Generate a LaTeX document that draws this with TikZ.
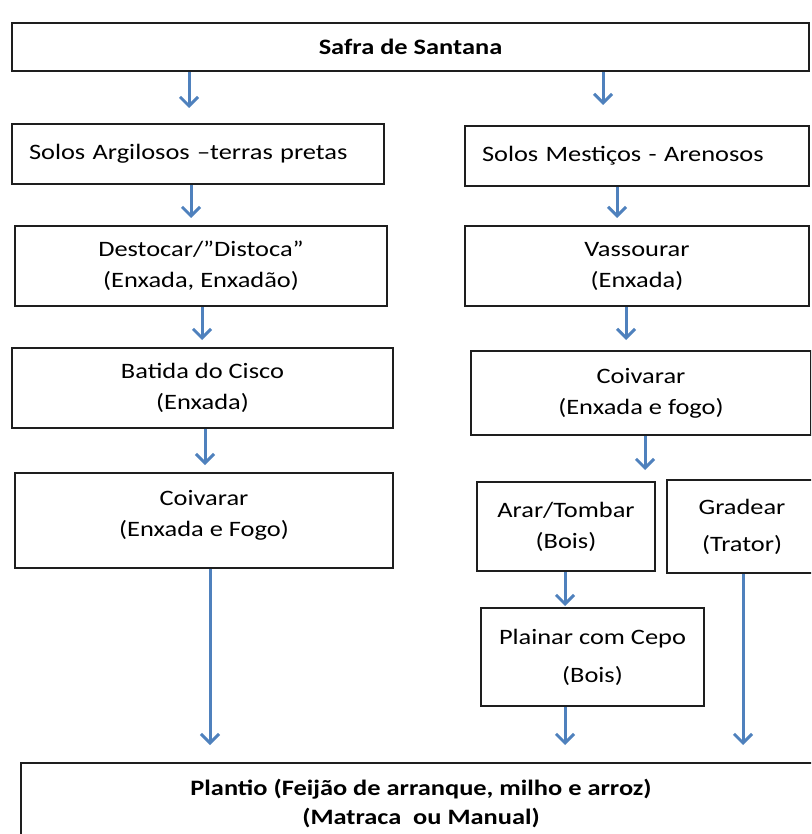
\documentclass[tikz,border=0pt]{standalone}
\usepackage{fontspec}
\setmainfont{Carlito}[FakeStretch = 1.2]
\usepackage{tikz}
\usetikzlibrary{arrows.meta}
\definecolor{arrowblue}{RGB}{79,129,189}
\definecolor{boxline}{RGB}{30,30,30}
\tikzset{
  box/.style = {draw = boxline, line width = 2pt, anchor = north west, inner sep = 0pt, align = center, font = \fontsize{22}{31}\selectfont},
  flow/.style = {arrowblue, line width = 3pt, -{Straight Barb[length = 9pt, width = 18pt]}}
}

\begin{document}
\begin{tikzpicture}[x = 1pt, y = -1pt]
\clip (0,0) rectangle (811,834);
\node[box, minimum width = 797pt, minimum height = 48pt, font = \fontsize{22}{31}\selectfont\bfseries] (safra) at (11,22) {Safra de Santana};
\node[box, text width = 338pt, inner xsep = 17pt, minimum height = 60pt, align = left] (solosA) at (11,123) {Solos Argilosos –terras pretas};
\node[box, text width = 310pt, inner xsep = 17pt, minimum height = 60pt, align = left] (solosM) at (464,125) {Solos Mestiços - Arenosos};
\node[box, minimum width = 372pt, minimum height = 80pt] (destocar) at (14,225) {Destocar/”Distoca”\\(Enxada, Enxadão)};
\node[box, minimum width = 344pt, minimum height = 80pt] (vassourar) at (464,225) {Vassourar\\(Enxada)};
\node[box, minimum width = 381pt, minimum height = 80pt] (batida) at (11,347) {Batida do Cisco\\(Enxada)};
\node[box, minimum width = 340pt, minimum height = 84pt] (coivararM) at (470,350) {Coivarar\\(Enxada e fogo)};
\node[box, minimum width = 378pt, minimum height = 95pt] (coivararA) at (14,472) {Coivarar\\(Enxada e Fogo)\\[-17pt]\mbox{}};
\node[box, minimum width = 178pt, minimum height = 89pt] (arar) at (476,481) {Arar/Tombar\\(Bois)};
\node[box, minimum width = 150pt, minimum height = 93pt] (gradear) at (666,479) {Gradear\\[6pt](Trator)};
\node[box, minimum width = 223pt, minimum height = 98pt] (plainar) at (480,607) {Plainar com Cepo\\[7pt](Bois)};
\node[box, minimum width = 800pt, minimum height = 80pt, font = \fontsize{22}{29}\selectfont\bfseries] (plantio) at (20,762) {Plantio (Feijão de arranque, milho e arroz)\\(Matraca~ ou Manual)};
\draw[flow, shorten > = 15pt] (safra.south -| 189,0) -- (solosA.north -| 189,0);
\draw[flow, shorten > = 20pt] (safra.south -| 603,0) -- (solosM.north -| 603,0);
\draw[flow, shorten > = 7pt] (solosA.south -| 191,0) -- (destocar.north -| 191,0);
\draw[flow, shorten > = 7pt] (solosM.south -| 617,0) -- (vassourar.north -| 617,0);
\draw[flow, shorten > = 7pt] (destocar.south -| 202,0) -- (batida.north -| 202,0);
\draw[flow, shorten > = 10pt] (vassourar.south -| 626,0) -- (coivararM.north -| 626,0);
\draw[flow, shorten > = 7pt] (batida.south -| 205,0) -- (coivararA.north -| 205,0);
\draw[flow, shorten > = 11pt] (coivararM.south -| 645,0) -- (arar.north -| 645,0);
\draw[flow, shorten > = 17pt] (coivararA.south -| 210,0) -- (plantio.north -| 210,0);
\draw[flow, shorten > = 1pt] (arar.south -| 565,0) -- (plainar.north -| 565,0);
\draw[flow, shorten > = 17pt] (plainar.south -| 565,0) -- (plantio.north -| 565,0);
\draw[flow, shorten > = 17pt] (gradear.south -| 743,0) -- (plantio.north -| 743,0);
\end{tikzpicture}
\end{document}
